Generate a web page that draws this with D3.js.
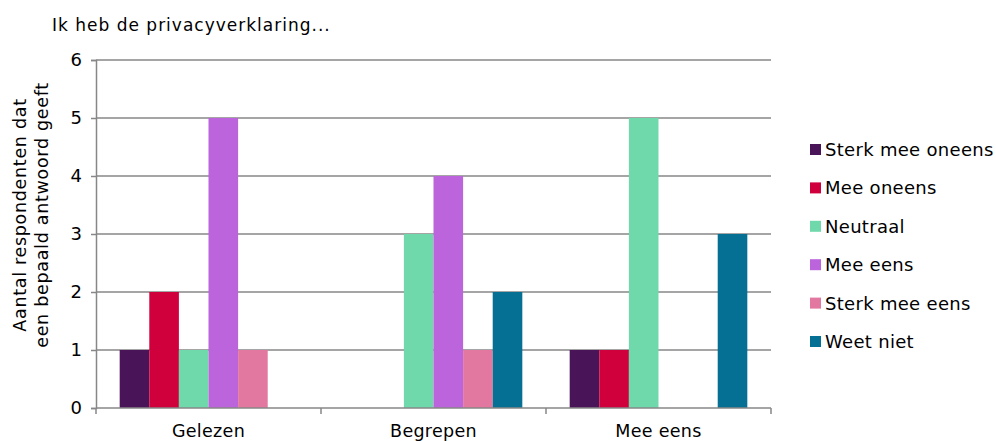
<!DOCTYPE html>
<html lang="nl">
<head>
<meta charset="utf-8">
<script src="https://d3js.org/d3.v7.min.js"></script>
<style>
  body { margin: 0; background: #fff; }
  text { font-family: "DejaVu Sans", Verdana, sans-serif; fill: #000; }
</style>
</head>
<body>
<script>
// Data
var categories = ["Gelezen", "Begrepen", "Mee eens"];
var seriesNames = ["Sterk mee oneens", "Mee oneens", "Neutraal", "Mee eens", "Sterk mee eens", "Weet niet"];
var seriesColors = ["#4a1458", "#d0003c", "#70d9ac", "#bb64dc", "#e2779f", "#066f94"];
var sterkOneens = [1, 0, 1];
var oneens = [2, 0, 1];
var neutraal = [1, 3, 5];
var eens = [5, 4, 0];
var sterkEens = [1, 1, 0];
var weetNiet = [0, 2, 3];
var yTicks = [0, 1, 2, 3, 4, 5, 6];

var series = [sterkOneens, oneens, neutraal, eens, sterkEens, weetNiet];

var w = 996, h = 441;
var plotLeft = 96, plotRight = 771, plotTop = 60, plotBottom = 408;
var gridColor = "#878787";

var svg = d3.select("body").append("svg").attr("width", w).attr("height", h);

var x0 = d3.scaleBand().domain(categories).range([plotLeft, plotRight]).padding(0);
var x1 = d3.scaleBand().domain(d3.range(seriesNames.length))
  .range([0, x0.bandwidth()]).paddingInner(0).paddingOuter(0.8);
var y = d3.scaleLinear().domain([0, 6]).range([plotBottom, plotTop]);

// gridlines
svg.append("g").selectAll("line").data(yTicks.slice(1)).enter().append("line")
  .attr("x1", plotLeft).attr("x2", plotRight)
  .attr("y1", function(d) { return y(d); }).attr("y2", function(d) { return y(d); })
  .attr("stroke", gridColor).attr("stroke-width", 1.5);

// bars
var groups = svg.append("g").selectAll("g").data(categories).enter().append("g")
  .attr("transform", function(c) { return "translate(" + x0(c) + ",0)"; });
groups.selectAll("rect")
  .data(function(c, ci) {
    return series.map(function(s, si) { return { si: si, v: s[ci] }; })
      .filter(function(d) { return d.v > 0; });
  })
  .enter().append("rect")
  .attr("x", function(d) { return x1(d.si); })
  .attr("width", x1.bandwidth())
  .attr("y", function(d) { return y(d.v); })
  .attr("height", function(d) { return y(0) - y(d.v); })
  .attr("fill", function(d) { return seriesColors[d.si]; });

// y axis
var yAxis = svg.append("g").attr("transform", "translate(" + plotLeft + ",0)")
  .call(d3.axisLeft(y).tickValues(yTicks).tickFormat(d3.format("d")).tickSize(5).tickPadding(9));
yAxis.select(".domain").attr("stroke", gridColor).attr("stroke-width", 1.5);
yAxis.selectAll(".tick line").attr("stroke", gridColor).attr("stroke-width", 1.5);
yAxis.selectAll(".tick text").style("font-size", "18px").attr("fill", "#000")
  .style("font-family", "'DejaVu Sans', Verdana, sans-serif");

// x axis
svg.append("line").attr("x1", plotLeft).attr("x2", plotRight)
  .attr("y1", plotBottom).attr("y2", plotBottom)
  .attr("stroke", gridColor).attr("stroke-width", 1.5);
svg.append("g").selectAll("line").data(d3.range(categories.length + 1)).enter().append("line")
  .attr("x1", function(i) { return plotLeft + i * x0.bandwidth(); })
  .attr("x2", function(i) { return plotLeft + i * x0.bandwidth(); })
  .attr("y1", plotBottom).attr("y2", plotBottom + 6)
  .attr("stroke", gridColor).attr("stroke-width", 1.5);
svg.append("g").selectAll("text").data(categories).enter().append("text")
  .attr("x", function(c) { return x0(c) + x0.bandwidth() / 2; })
  .attr("y", 437).attr("text-anchor", "middle").style("font-size", "17.5px")
  .style("letter-spacing", "0.3px")
  .text(function(c) { return c; });

// title
svg.append("text").attr("x", 52).attr("y", 31).style("font-size", "17px")
  .style("letter-spacing", "1px")
  .text("Ik heb de privacyverklaring...");

// y axis title
var yt = svg.append("text").attr("transform", "translate(0,215) rotate(-90)")
  .attr("text-anchor", "middle").style("font-size", "17.5px")
  .style("letter-spacing", "0.7px");
yt.append("tspan").attr("x", 0).attr("y", 26).text("Aantal respondenten dat");
yt.append("tspan").attr("x", 0).attr("y", 48).text("een bepaald antwoord geeft");

// legend
var legend = svg.append("g").selectAll("g").data(seriesNames).enter().append("g")
  .attr("transform", function(d, i) { return "translate(810," + (150 + i * 38.4) + ")"; });
legend.append("rect").attr("x", 0).attr("y", -6).attr("width", 11).attr("height", 11)
  .attr("fill", function(d, i) { return seriesColors[i]; });
legend.append("text").attr("x", 15).attr("y", 6).style("font-size", "18px")
  .style("letter-spacing", "0.3px")
  .text(function(d) { return d; });
</script>
</body>
</html>
